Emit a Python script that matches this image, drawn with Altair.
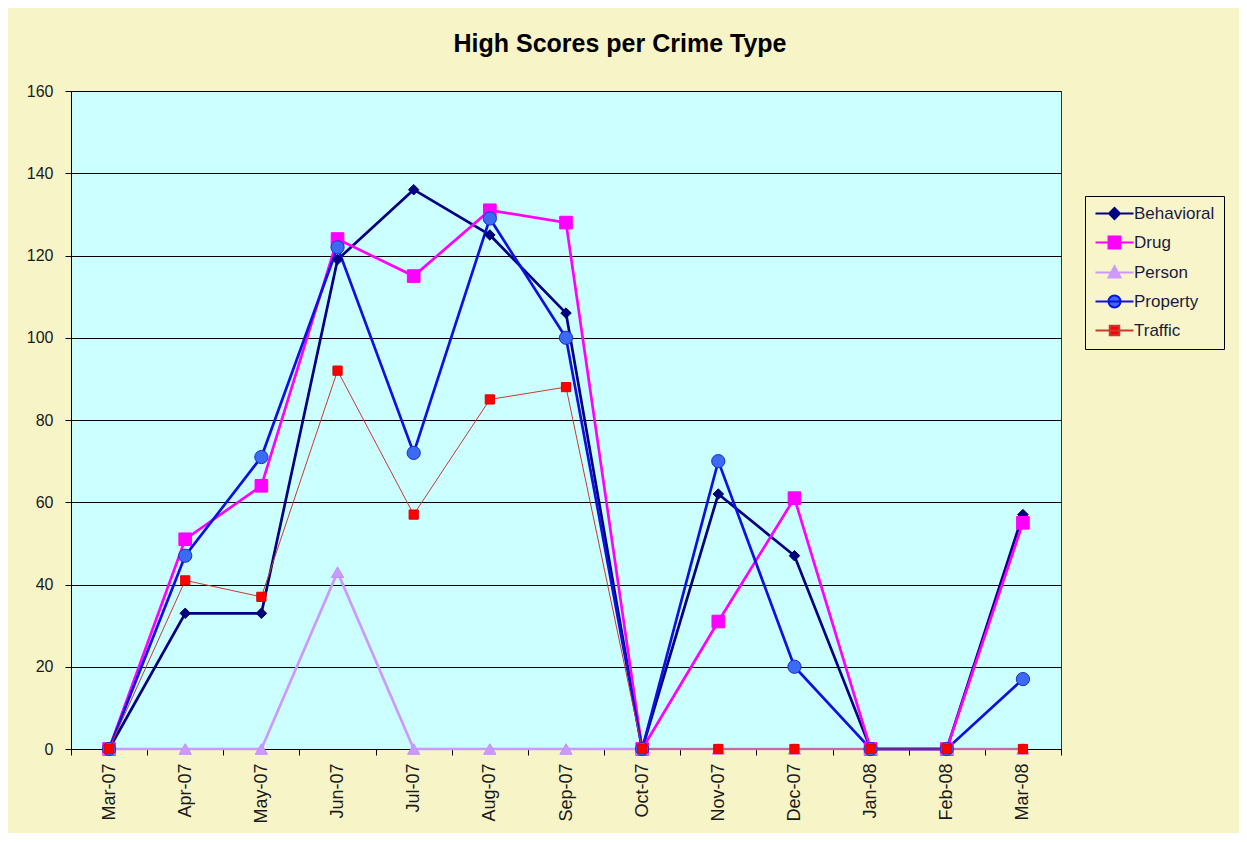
import altair as alt
import pandas as pd

months = ["Mar-07", "Apr-07", "May-07", "Jun-07", "Jul-07", "Aug-07", "Sep-07",
          "Oct-07", "Nov-07", "Dec-07", "Jan-08", "Feb-08", "Mar-08"]
series_names = ["Behavioral", "Drug", "Person", "Property", "Traffic"]

behavioral = [0, 33, 33, 119, 136, 125, 106, 0, 62, 47, 0, 0, 57]
drug = [0, 51, 64, 124, 115, 131, 128, 0, 31, 61, 0, 0, 55]
person = [0, 0, 0, 43, 0, 0, 0, 0, 0, 0, 0, 0, 0]
property_ = [0, 47, 71, 122, 72, 129, 100, 0, 70, 20, 0, 0, 17]
traffic = [0, 41, 37, 92, 57, 85, 88, 0, 0, 0, 0, 0, 0]

line_colors = ["#000080", "#FF00FF", "#CC99FF", "#1010E0", "#C83A30"]
line_widths = [2.7, 2.7, 2.7, 2.7, 1.0]
marker_fill = ["#000080", "#FF00FF", "#CC99FF", "#3A6BF2", "#FF0000"]
marker_stroke = ["#000060", "#FF00FF", "#C090F8", "#1A2FD0", "#E00000"]
marker_shapes = ["diamond", "square", "triangle-up", "circle", "square"]
marker_sizes = [110, 160, 150, 175, 85]

legend_paths = [
    "M-3.8,0H3.8M0,-1.1L1.1,0L0,1.1L-1.1,0Z",
    "M-3.8,0H3.8M-1.2,-1.2H1.2V1.2H-1.2Z",
    "M-3.8,0H3.8M0,-1.25L1.2,1L-1.2,1Z",
    "M-3.8,0H3.8M-1.2,0A1.2,1.2 0 1,0 1.2,0A1.2,1.2 0 1,0 -1.2,0Z",
    "M-3.8,0H3.8M-0.95,-0.95H0.95V0.95H-0.95Z",
]

values_by_series = [behavioral, drug, person, property_, traffic]
rows = []
for name, vals in zip(series_names, values_by_series):
    for m, v in zip(months, vals):
        rows.append({"series": name, "month": m, "value": v})
df = pd.DataFrame(rows)

FONT = "Liberation Sans"

x_enc = alt.X(
    "month:N",
    sort=months,
    scale=alt.Scale(type="band", domain=months, paddingInner=0, paddingOuter=0),
    axis=alt.Axis(
        title=None, labelAngle=270, tickBand="extent", labelFontSize=18,
        labelFont=FONT, labelColor="#1a1a1a", tickSize=6, tickColor="black",
        domainColor="black", labelPadding=8, grid=False,
    ),
)
y_enc = alt.Y(
    "value:Q",
    scale=alt.Scale(domain=[0, 160], nice=False),
    axis=alt.Axis(
        title=None, values=list(range(0, 161, 20)), grid=True, gridColor="black",
        gridWidth=1, gridOpacity=1, domainColor="black", tickColor="black",
        tickSize=6, labelFontSize=16, labelFont=FONT, labelColor="#1a1a1a",
        labelPadding=12,
    ),
)

base = alt.Chart(df)

line_layers = []
point_layers = []
for i, name in enumerate(series_names):
    sub = base.transform_filter(alt.datum.series == name)
    line_layers.append(
        sub.mark_line(color=line_colors[i], strokeWidth=line_widths[i]).encode(x=x_enc, y=y_enc)
    )
    point_layers.append(
        sub.mark_point(
            filled=True, shape=marker_shapes[i], size=marker_sizes[i],
            fill=marker_fill[i], stroke=marker_stroke[i], strokeWidth=1, opacity=1,
        ).encode(x=x_enc, y=y_enc)
    )

leg = alt.Legend(
    title=None, orient="none", legendX=1014, legendY=105,
    labelFont=FONT, labelFontSize=17, labelColor="#1a1a40",
    symbolSize=100, symbolOffset=12, labelOffset=11, rowPadding=9,
    padding=9, strokeColor="black", fillColor="#F8F5CB", symbolOpacity=1,
    symbolStrokeWidth=2,
)

legend_layer = base.transform_filter("datum.value < 0").mark_point(filled=True, size=100).encode(
    x=x_enc,
    y=y_enc,
    shape=alt.Shape("series:N", scale=alt.Scale(domain=series_names, range=legend_paths), legend=leg),
    fill=alt.Fill("series:N", scale=alt.Scale(domain=series_names, range=marker_fill), legend=leg),
    stroke=alt.Stroke("series:N", scale=alt.Scale(domain=series_names, range=line_colors), legend=leg),
)

chart = alt.layer(*line_layers, *point_layers, legend_layer).properties(
    width=990,
    height=658,
    title=alt.TitleParams(
        "High Scores per Crime Type", fontSize=25, fontWeight="bold", font=FONT,
        color="black", anchor="middle", frame="group", dx=54, offset=6,
        baseline="alphabetic",
    ),
    padding={"left": 63, "top": 83, "right": 178, "bottom": 84},
    autosize=alt.AutoSizeParams(type="none"),
    background="#F7F4C8",
).configure_view(
    fill="#CCFFFF", stroke="#333333", strokeWidth=1,
)

chart.save("out.html", embed_options={"renderer": "svg", "actions": False})
